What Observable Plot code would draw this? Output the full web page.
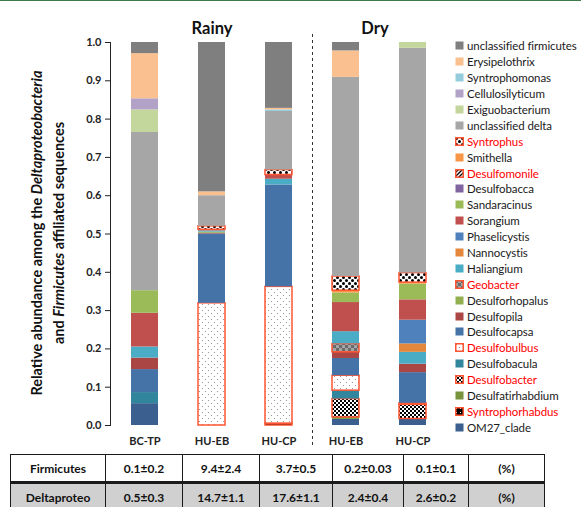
<!DOCTYPE html>
<html><head><meta charset="utf-8">
<script src="https://cdn.jsdelivr.net/npm/d3@7"></script>
<script src="https://cdn.jsdelivr.net/npm/@observablehq/plot@0.6"></script>
<style>
body{margin:0;background:#fff;font-family:Lato,"Open Sans",sans-serif;}
#wrap{position:relative;width:581px;height:507px;overflow:hidden;}
#topline{position:absolute;left:0;top:0;width:581px;height:1px;background:#3d7a4c;}
#chart{position:absolute;left:0;top:0;}
.title{position:absolute;font-weight:bold;font-size:16.5px;color:#111;transform:translateX(-50%);}
#legend{position:absolute;left:455px;top:38px;}
.li{display:flex;align-items:center;height:15.9px;font-size:11.5px;white-space:nowrap;letter-spacing:-0.1px;}
.li svg{margin-right:3px;flex:none;}
#tbl{position:absolute;left:10px;top:454px;border-collapse:collapse;font-weight:bold;font-size:12px;color:#111;}
#tbl td{border:1.5px solid #1a1a1a;text-align:center;height:26px;padding:0;}
#tbl tr.r2 td{background:#d0d0d0;border-top:3px solid #1a1a1a;}
</style></head>
<body>
<div id="wrap">
  <div id="topline"></div>
  <div id="chart"></div>
  <div class="title" style="left:212px;top:18px">Rainy</div>
  <div class="title" style="left:375px;top:18px">Dry</div>
  <div id="legend"></div>
  <table id="tbl"></table>
</div>
<script>
// ---- data ----
const sampleLabels = ["BC-TP","HU-EB","HU-CP","HU-EB","HU-CP"];
const sampleSeasons = ["Rainy","Rainy","Rainy","Dry","Dry"];
// genera, stacked bottom-up
const genera = ["OM27_clade","Syntrophorhabdus","Desulfatirhabdium","Desulfobacter","Desulfobacula","Desulfobulbus","Desulfocapsa","Desulfopila","Desulforhopalus","Geobacter","Haliangium","Nannocystis","Phaselicystis","Sorangium","Sandaracinus","Desulfobacca","Desulfomonile","Smithella","Syntrophus","unclassified delta","Exiguobacterium","Cellulosilyticum","Syntrophomonas","Erysipelothrix","unclassified firmicutes"];
const rainyBCTP = [0.057,0,0,0,0.029,0,0.060,0.030,0,0,0.029,0,0,0.088,0.059,0,0,0,0,0.413,0.059,0.029,0,0.118,0.029];
const rainyHUEB = [0,0,0,0,0,0.319,0.181,0.002,0.003,0,0.003,0,0,0.003,0,0,0,0,0.009,0.080,0,0,0,0.010,0.390];
const rainyHUCP = [0,0.005,0,0,0,0.357,0.266,0,0,0,0.015,0,0,0.011,0,0,0,0,0.013,0.153,0,0,0.004,0.004,0.172];
const dryHUEB = [0.016,0,0.005,0.048,0.022,0.039,0.045,0.016,0,0.022,0.032,0,0,0.076,0.025,0,0,0.006,0.037,0.520,0,0,0,0.069,0.022];
const dryHUCP = [0.017,0,0,0.037,0,0.004,0.080,0.022,0,0,0.031,0.022,0.062,0.053,0.041,0,0,0.004,0.025,0.587,0.015,0,0,0,0];
const sampleValues = [rainyBCTP, rainyHUEB, rainyHUCP, dryHUEB, dryHUCP];
const highlighted = ["Syntrophus","Desulfomonile","Geobacter","Desulfobulbus","Desulfobacter","Syntrophorhabdus"];
const tableRowNames = ["Firmicutes","Deltaproteo"];
const firmicutesPct = ["0.1±0.2","9.4±2.4","3.7±0.5","0.2±0.03","0.1±0.1"];
const deltaproteoPct = ["0.5±0.3","14.7±1.1","17.6±1.1","2.4±0.4","2.6±0.2"];
const unitLabel = "(%)";

// ---- styles ----
const palette = ["#3B5F8E","url(#p-rhabdus)","#77933C","url(#p-bacter)","#31859C","url(#p-bulbus)","#4572A7","#AA4643","#92B050","url(#p-geo)","#4BACC6","#E3873C","#4F81BD","#C0504D","#9BBB59","#8064A2","url(#p-monile)","#F79646","url(#p-syntrophus)","#A6A6A6","#C3D69B","#B3A2C7","#93CDDD","#FAC090","#7F7F7F"];
const fillOf = Object.fromEntries(genera.map((g,i)=>[g,palette[i]]));
const redEdge = "#FF5533";

const sampleIds = sampleLabels.map((s,i)=>sampleSeasons[i]+"|"+s);
const rows = [];
sampleIds.forEach((id,i)=>genera.forEach((g,j)=>{ if (sampleValues[i][j] > 0) rows.push({sample:id, genus:g, value:sampleValues[i][j]}); }));

const chart = Plot.plot({
  width: 450, height: 450,
  marginLeft: 110, marginRight: 4, marginTop: 42, marginBottom: 25,
  style: {fontFamily: "Lato, sans-serif", fontSize: "11px", fontWeight: "bold", color: "#222", overflow: "visible", background: "transparent"},
  x: {domain: sampleIds, paddingInner: 0.6, paddingOuter: 0.3, tickSize: 0, tickPadding: 12, tickFormat: d => d.split("|")[1], label: null},
  y: {domain: [0,1], ticks: 10, tickFormat: ".1f", tickSize: 5, tickPadding: 4, label: null, line: true},
  color: {type: "identity"},
  marks: [
    Plot.barY(rows, {x: "sample", y: "value", fill: d => fillOf[d.genus], stroke: d => highlighted.includes(d.genus) ? redEdge : "none", strokeWidth: 1.5}),
    Plot.ruleX([sampleIds[2]], {dx: 33.5, stroke: "#333", strokeWidth: 1, strokeDasharray: "3,3", insetTop: -8, insetBottom: -22})
  ]
});
document.getElementById("chart").appendChild(chart);

const svg = d3.select(chart);
const defs = svg.insert("defs", ":first-child");
function pat(id, size) { return defs.append("pattern").attr("id", id).attr("patternUnits","userSpaceOnUse").attr("width",size).attr("height",size); }
let p = pat("p-bulbus", 6);
p.append("rect").attr("width",6).attr("height",6).attr("fill","#fff");
p.append("circle").attr("cx",1.5).attr("cy",1.5).attr("r",0.6).attr("fill","#888");
p.append("circle").attr("cx",4.5).attr("cy",4.5).attr("r",0.6).attr("fill","#888");
p = pat("p-bacter", 4);
p.append("rect").attr("width",4).attr("height",4).attr("fill","#fff");
p.append("rect").attr("width",2).attr("height",2).attr("fill","#000");
p.append("rect").attr("x",2).attr("y",2).attr("width",2).attr("height",2).attr("fill","#000");
p = pat("p-syntrophus", 6);
p.append("rect").attr("width",6).attr("height",6).attr("fill","#fff");
p.append("circle").attr("cx",1.5).attr("cy",1.5).attr("r",1.5).attr("fill","#000");
p.append("circle").attr("cx",4.5).attr("cy",4.5).attr("r",1.5).attr("fill","#000");
p = pat("p-geo", 6);
p.append("rect").attr("width",6).attr("height",6).attr("fill","#a5a5a5");
p.append("rect").attr("width",3).attr("height",3).attr("fill","#6a6a6a");
p.append("rect").attr("x",3).attr("y",3).attr("width",3).attr("height",3).attr("fill","#6a6a6a");
p = pat("p-monile", 4);
p.append("rect").attr("width",4).attr("height",4).attr("fill","#fff");
p.append("path").attr("d","M-1,1 l2,-2 M0,4 l4,-4 M3,5 l2,-2").attr("stroke","#000").attr("stroke-width",1.3);
p = pat("p-rhabdus", 4);
p.append("rect").attr("width",4).attr("height",4).attr("fill","#000");
p.append("rect").attr("x",1).attr("y",1).attr("width",1).attr("height",1).attr("fill","#fff");

// y-axis title (two lines, partly italic)
const l1 = svg.append("text").attr("transform","translate(42,233) rotate(-90)").attr("text-anchor","middle")
  .style("font-size","14.5px").style("font-weight","bold").attr("fill","#111");
l1.append("tspan").text("Relative abundance among the ");
l1.append("tspan").attr("font-style","italic").text("Deltaproteobacteria");
const l2 = svg.append("text").attr("transform","translate(64,233) rotate(-90)").attr("text-anchor","middle")
  .style("font-size","14.5px").style("font-weight","bold").attr("fill","#111");
l2.append("tspan").text("and ");
l2.append("tspan").attr("font-style","italic").text("Firmicutes");
l2.append("tspan").text(" affiliated sequences");

// legend
const legend = d3.select("#legend");
genera.slice().reverse().forEach(g => {
  const hl = highlighted.includes(g);
  const item = legend.append("div").attr("class","li");
  const s = item.append("svg").attr("width",9).attr("height",9);
  s.append("rect").attr("x", hl ? 0.75 : 0.5).attr("y", hl ? 0.75 : 0.5).attr("width", hl ? 7.5 : 8).attr("height", hl ? 7.5 : 8)
    .attr("fill", fillOf[g]).attr("stroke", hl ? redEdge : "none").attr("stroke-width", 1.5);
  item.append("span").style("color", hl ? "#ff0000" : "#1a1a1a").text(g);
});

// table
const colWidths = [94, 76, 76, 72, 70, 64, 75];
const tbl = d3.select("#tbl");
[firmicutesPct, deltaproteoPct].forEach((vals, r) => {
  const tr = tbl.append("tr").attr("class", r ? "r2" : "r1");
  [tableRowNames[r], ...vals, unitLabel].forEach((t, c) => tr.append("td").style("width", colWidths[c] + "px").text(t));
});
</script>
</body></html>
